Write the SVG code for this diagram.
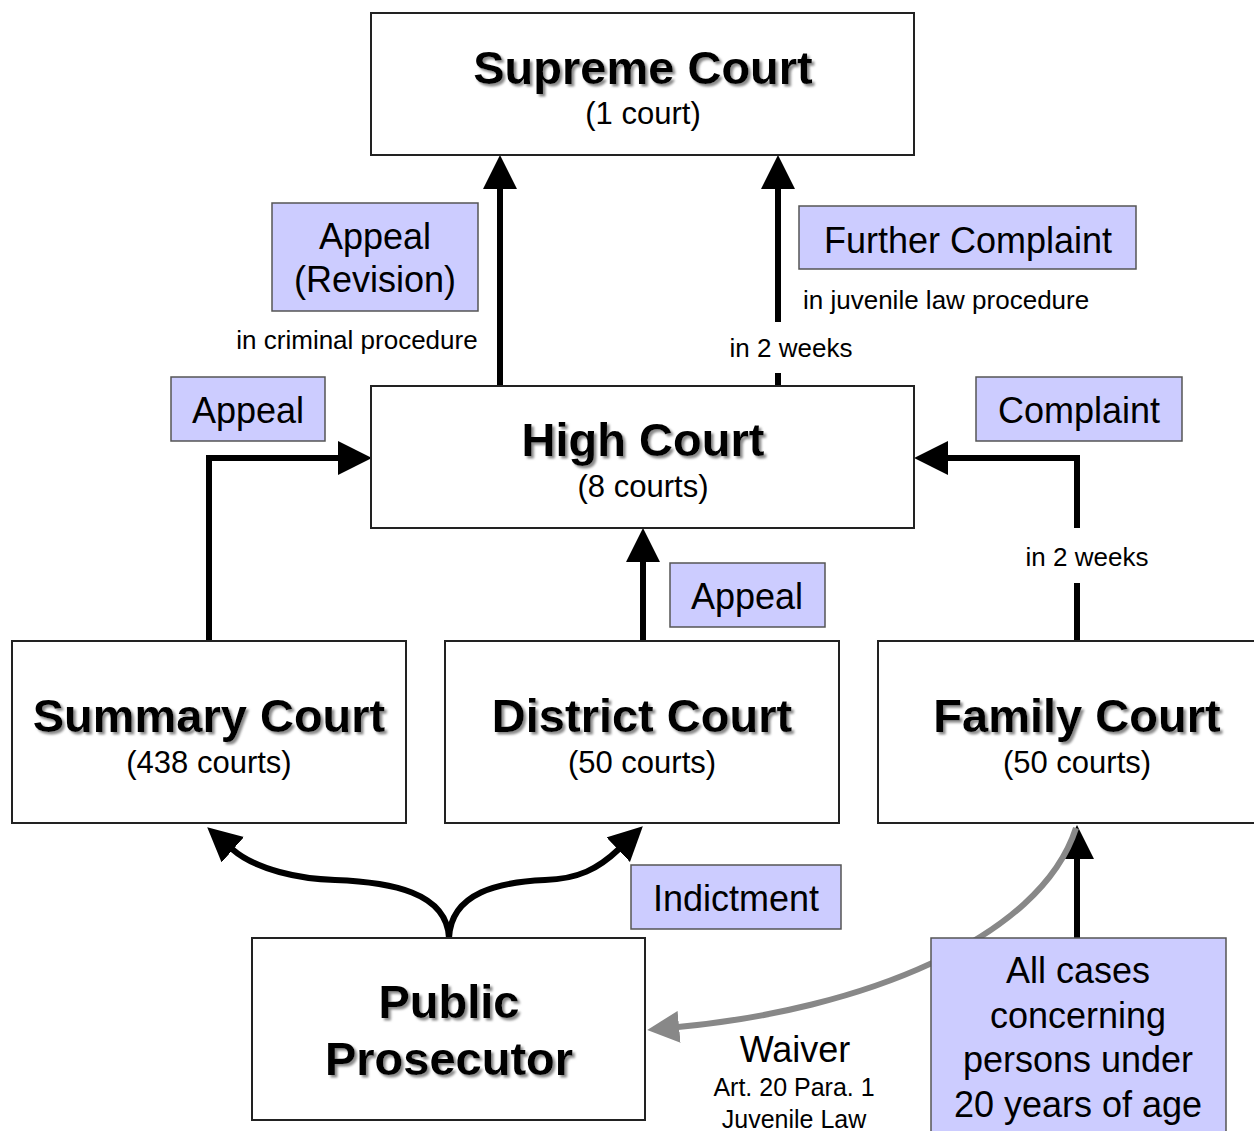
<svg xmlns="http://www.w3.org/2000/svg" width="1254" height="1131" viewBox="0 0 1254 1131">
<style>
.node{fill:#fff;stroke:#222;stroke-width:2}
.lbl{fill:#ccccff;stroke:#555;stroke-width:1.5}
.t{font-family:"Liberation Sans",Arial,sans-serif;fill:#000;text-anchor:middle}
.title{font-size:47px;font-weight:bold;filter:url(#sh)}
.sub{font-size:31px}
.lt{font-size:36px}
.sm{font-size:26px}
.smL{font-size:26px;text-anchor:start}
.ar{fill:none;stroke:#000;stroke-width:6}
.gr{fill:none;stroke:#888;stroke-width:6}
</style>
<defs>
<filter id="sh" x="-10%" y="-20%" width="130%" height="150%">
<feDropShadow dx="2.5" dy="2.5" stdDeviation="1" flood-color="#8a8a8a" flood-opacity="1"/>
</filter>
<marker id="ah" markerUnits="userSpaceOnUse" markerWidth="34" markerHeight="34" viewBox="0 0 32 32" refX="1" refY="16" orient="auto">
<path d="M0,0 L32,16 L0,32 z" fill="#000"/>
</marker>
<marker id="ahg" markerUnits="userSpaceOnUse" markerWidth="32" markerHeight="32" viewBox="0 0 30 30" refX="1" refY="15" orient="auto">
<path d="M0,0 L30,15 L0,30 z" fill="#888"/>
</marker>
</defs>

<g id="connectors">
<path class="ar" d="M500,386 V188" marker-end="url(#ah)"/>
<path class="ar" d="M778,386 V373"/>
<path class="ar" d="M778,322 V188" marker-end="url(#ah)"/>
<path class="ar" d="M209,641 V458 H339" marker-end="url(#ah)"/>
<path class="ar" d="M1077,641 V583"/>
<path class="ar" d="M1077,528 V458 H947" marker-end="url(#ah)"/>
<path class="ar" d="M643,641 V561" marker-end="url(#ah)"/>
<path class="ar" d="M449,938 C447,892 390,882 335,880 C300,879 256,870 232,849" marker-end="url(#ah)"/>
<path class="ar" d="M449,938 C451,892 500,882 545,880 C578,879 598,869 619,849" marker-end="url(#ah)"/>
<path class="ar" d="M1077,938 V858" marker-end="url(#ah)"/>
<path class="gr" d="M1076,828 C1040,940 860,1010 678,1027" marker-end="url(#ahg)"/>
</g>

<g id="supreme">
<rect class="node" x="371" y="13" width="543" height="142"/>
<text class="t title" x="643" y="84">Supreme Court</text>
<text class="t sub" x="643" y="124">(1 court)</text>
</g>

<g id="high">
<rect class="node" x="371" y="386" width="543" height="142"/>
<text class="t title" x="643" y="456">High Court</text>
<text class="t sub" x="643" y="497">(8 courts)</text>
</g>

<g id="summary">
<rect class="node" x="12" y="641" width="394" height="182"/>
<text class="t title" x="209" y="732">Summary Court</text>
<text class="t sub" x="209" y="773">(438 courts)</text>
</g>

<g id="district">
<rect class="node" x="445" y="641" width="394" height="182"/>
<text class="t title" x="642" y="732">District Court</text>
<text class="t sub" x="642" y="773">(50 courts)</text>
</g>

<g id="family">
<rect class="node" x="878" y="641" width="400" height="182"/>
<text class="t title" x="1077" y="732">Family Court</text>
<text class="t sub" x="1077" y="773">(50 courts)</text>
</g>

<g id="prosecutor">
<rect class="node" x="252" y="938" width="393" height="182"/>
<text class="t title" x="449" y="1018">Public</text>
<text class="t title" x="449" y="1075">Prosecutor</text>
</g>

<g id="lbl-revision">
<rect class="lbl" x="272" y="203" width="206" height="108"/>
<text class="t lt" x="375" y="249">Appeal</text>
<text class="t lt" x="375" y="292">(Revision)</text>
</g>
<text class="t sm" x="357" y="349">in criminal procedure</text>

<g id="lbl-further">
<rect class="lbl" x="799" y="206" width="337" height="63"/>
<text class="t lt" x="968" y="253">Further Complaint</text>
</g>
<text class="t smL" x="803" y="309">in juvenile law procedure</text>
<text class="t sm" x="791" y="357">in 2 weeks</text>

<g id="lbl-appeal-left">
<rect class="lbl" x="171" y="377" width="154" height="64"/>
<text class="t lt" x="248" y="423">Appeal</text>
</g>

<g id="lbl-complaint">
<rect class="lbl" x="976" y="377" width="206" height="64"/>
<text class="t lt" x="1079" y="423">Complaint</text>
</g>
<text class="t sm" x="1087" y="566">in 2 weeks</text>

<g id="lbl-appeal-mid">
<rect class="lbl" x="670" y="563" width="155" height="64"/>
<text class="t lt" x="747" y="609">Appeal</text>
</g>

<g id="lbl-indictment">
<rect class="lbl" x="631" y="865" width="210" height="64"/>
<text class="t lt" x="736" y="911">Indictment</text>
</g>

<g id="lbl-allcases">
<rect class="lbl" x="931" y="938" width="295" height="200"/>
<text class="t lt" x="1078" y="983">All cases</text>
<text class="t lt" x="1078" y="1028">concerning</text>
<text class="t lt" x="1078" y="1072">persons under</text>
<text class="t lt" x="1078" y="1117">20 years of age</text>
</g>

<g id="waiver">
<text class="t lt" x="795" y="1062">Waiver</text>
<text class="t" style="font-size:25px" x="794" y="1096">Art. 20 Para. 1</text>
<text class="t" style="font-size:25px" x="794" y="1128">Juvenile Law</text>
</g>
</svg>
